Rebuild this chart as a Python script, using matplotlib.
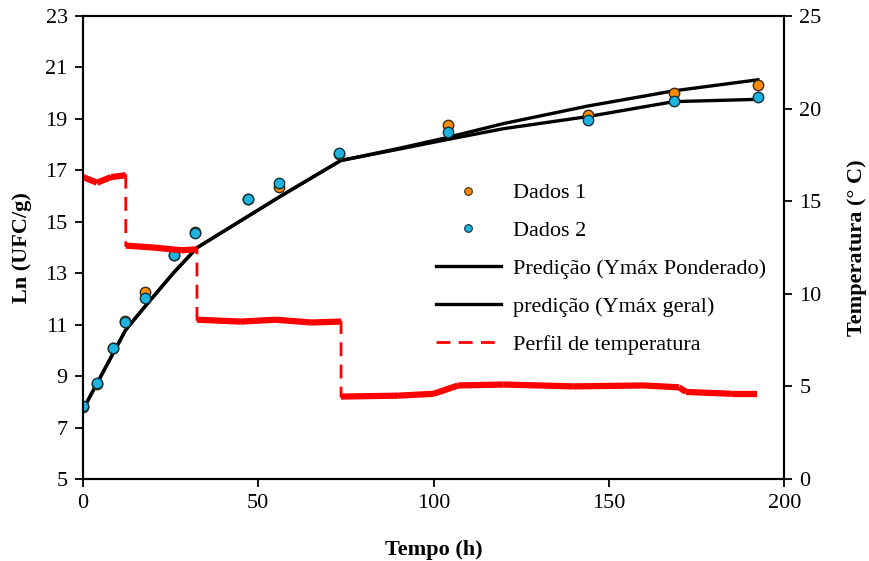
import numpy as np
import matplotlib
matplotlib.use('Agg')
import matplotlib.pyplot as plt
from matplotlib.lines import Line2D

plt.rcParams['font.family'] = ['Liberation Serif', 'DejaVu Serif']

# Observed data (Ln UFC/g)
t_obs = [0, 4, 8.5, 12, 17.7, 26, 32, 47, 56, 73, 104, 144, 168.5, 192.5]
dados1 = [7.8, 8.7, 10.1, 11.15, 12.25, 13.7, 14.6, 15.87, 16.35, 17.65, 18.75, 19.15, 20.01, 20.32]
dados2 = [7.84, 8.74, 10.1, 11.1, 12.05, 13.69, 14.58, 15.87, 16.49, 17.68, 18.48, 18.97, 19.71, 19.84]

# Predictions
t_pred = [0, 12.2, 17.7, 25.8, 32.5, 56.3, 73.5, 90, 104, 120, 144, 168.5, 192.5]
pred_pond = [7.7, 10.8, 11.71, 13.01, 13.99, 15.99, 17.38, 17.85, 18.28, 18.82, 19.5, 20.09, 20.52]
pred_geral = [7.7, 10.8, 11.71, 13.01, 13.99, 15.99, 17.38, 17.82, 18.2, 18.62, 19.09, 19.67, 19.76]

# Temperature profile (°C)
temp_t = [0, 4, 8, 12.2, 12.2, 20, 28, 32.5, 32.5, 45, 55, 65, 73.6, 73.6, 90, 100, 107, 120, 140,
          160, 170, 172, 185, 192.2]
temp_c = [16.3, 16.0, 16.3, 16.4, 12.6, 12.5, 12.35, 12.4, 8.6, 8.5, 8.6, 8.45, 8.5, 4.45, 4.5, 4.6,
          5.05, 5.1, 5.0, 5.05, 4.95, 4.7, 4.6, 4.6]

fig = plt.figure(figsize=(8.7, 5.61), dpi=100)
ax = fig.add_axes([0.0954, 0.1462, 0.806, 0.8253])
ax2 = ax.twinx()

fs = 16
ax.plot(t_pred, pred_pond, color='black', lw=2.4, zorder=2)
ax.plot(t_pred, pred_geral, color='black', lw=2.4, zorder=2)
ax.plot(t_obs, dados1, 'o', ms=7.5, mfc='#FF8C00', mec='#3a2a10', mew=1.0, zorder=3)
ax.plot(t_obs, dados2, 'o', ms=7.5, mfc='#1EB4E0', mec='#10303a', mew=1.0, zorder=4)

# temperature: dashed full profile, plateaus drawn solid (noisy record)
ax2.plot(temp_t, temp_c, color='red', lw=2.0, dashes=(5, 3))
for i in range(len(temp_t) - 1):
    if temp_t[i + 1] > temp_t[i]:
        ax2.plot(temp_t[i:i + 2], temp_c[i:i + 2], color='red', lw=4.5, solid_capstyle='butt')

ax.set_xlim(0, 200)
ax.set_ylim(5, 23)
ax2.set_ylim(0, 25)
ax.set_xticks(np.arange(0, 201, 50))
ax.set_yticks(np.arange(5, 24, 2))
ax2.set_yticks(np.arange(0, 26, 5))

for a in (ax, ax2):
    a.tick_params(direction='out', length=6, width=1.3, labelsize=fs, pad=5)
    for s in a.spines.values():
        s.set_linewidth(1.5)
ax.tick_params(axis='y', right=False)

ax.set_xlabel('Tempo (h)', fontsize=fs, fontweight='bold', labelpad=19)
ax.set_ylabel('Ln (UFC/g)', fontsize=fs, fontweight='bold', labelpad=10)
ax2.set_ylabel('Temperatura (° C)', fontsize=fs, fontweight='bold', labelpad=18)

handles = [
    Line2D([], [], ls='none', marker='o', ms=5.5, mfc='#FF8C00', mec='#3a2a10', mew=0.8),
    Line2D([], [], ls='none', marker='o', ms=5.5, mfc='#1EB4E0', mec='#10303a', mew=0.8),
    Line2D([], [], color='black', lw=2.4),
    Line2D([], [], color='black', lw=2.4),
    Line2D([], [], color='red', lw=2.0, dashes=(5, 3)),
]
labels = ['Dados 1', 'Dados 2', 'Predição (Ymáx Ponderado)', 'predição (Ymáx geral)',
          'Perfil de temperatura']
ax2.legend(handles, labels, loc='upper left', bbox_to_anchor=(0.491, 0.69),
           bbox_transform=fig.transFigure, frameon=False, fontsize=fs,
           handlelength=2.9, handletextpad=0.55, labelspacing=0.78, borderaxespad=0)

fig.savefig('out.png', dpi=100)
